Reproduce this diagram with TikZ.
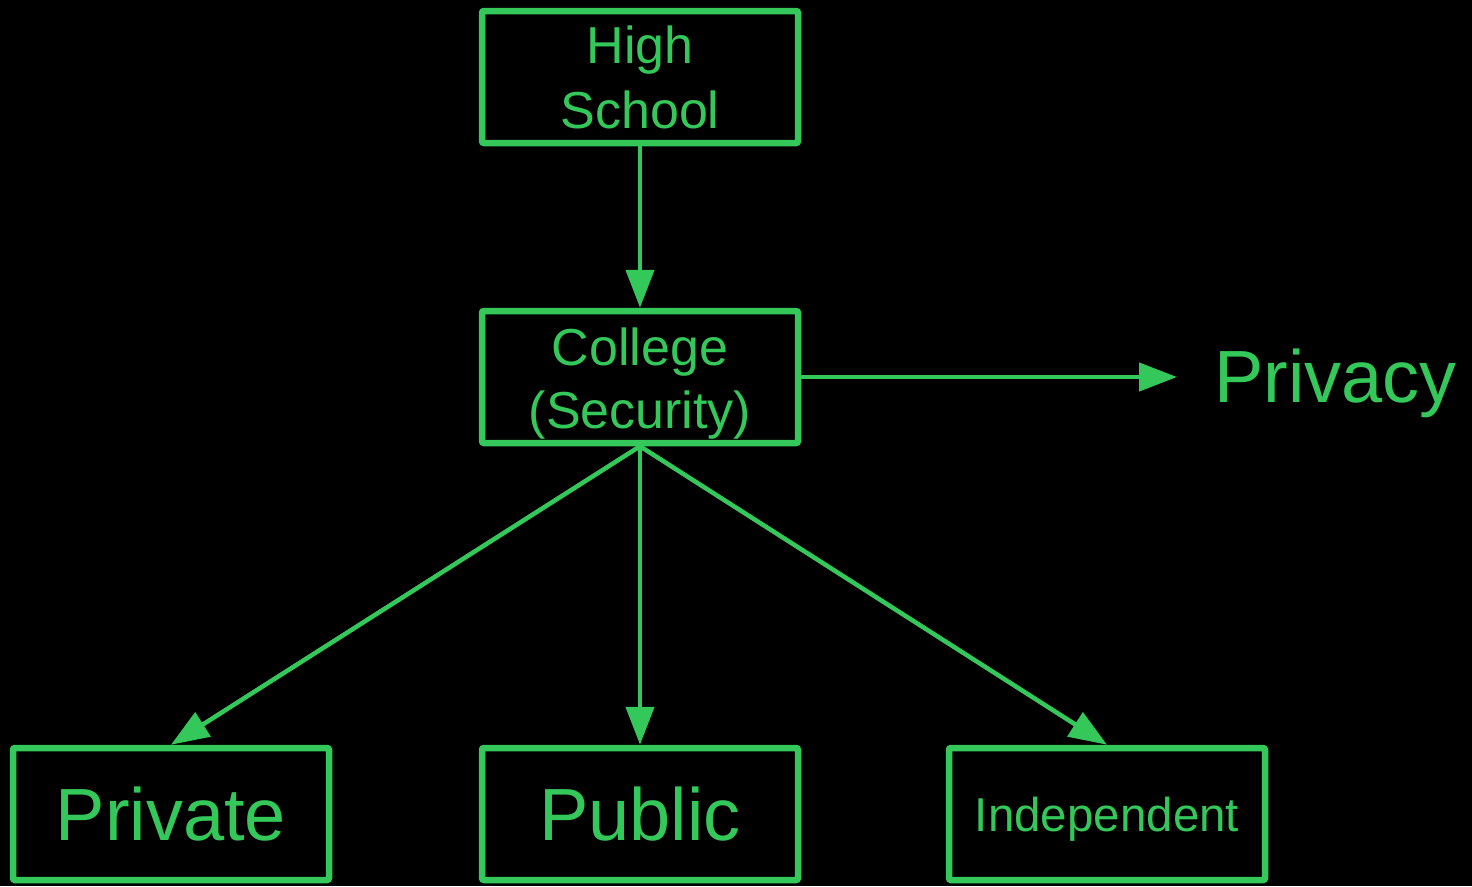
\documentclass[tikz,border=0pt]{standalone}
\usepackage{fontspec}
\setmainfont{Liberation Sans}
\usetikzlibrary{arrows.meta}
\definecolor{grn}{RGB}{52,199,89}
\begin{document}
\begin{tikzpicture}[x=1pt,y=-1pt,
  box/.style={draw=grn, line width=6.5pt, rounded corners=2pt, minimum width=316pt, minimum height=132pt, inner sep=0pt, text=grn, align=center},
  conn/.style={draw=grn, line width=4.5pt, -{Triangle[length=38pt,width=28pt]}},
  lbl/.style={text=grn, inner sep=0pt}]
\fill[black] (0,0) rectangle (1472,886);
\useasboundingbox (0,0) rectangle (1472,886);
\node[box, font=\fontsize{52}{65}\selectfont] (hs) at (640,77) {High\\School};
\node[box, font=\fontsize{52}{63}\selectfont] (col) at (640,377) {\rule{0pt}{50pt}College\\(Security)};
\node[box, font=\fontsize{74}{80}\selectfont, text depth=0pt] (priv) at (171,814) {Private};
\node[box, font=\fontsize{74}{80}\selectfont, text depth=0pt] (pub) at (640,814) {Public};
\node[box, font=\fontsize{47.5}{56}\selectfont, text depth=0pt] (ind) at (1107,814) {Independent};
\node[lbl, anchor=base west, font=\fontsize{74}{80}\selectfont] (pv) at (1214,402) {Privacy};
\coordinate (pvend) at (1177,377);
\draw[conn] (hs.south) -- (col.north);
\draw[conn] (col.east) -- (pvend);
\draw[conn] (col.south) -- (priv.north);
\draw[conn] (col.south) -- (pub.north);
\draw[conn] (col.south) -- (ind.north);
\end{tikzpicture}
\end{document}
